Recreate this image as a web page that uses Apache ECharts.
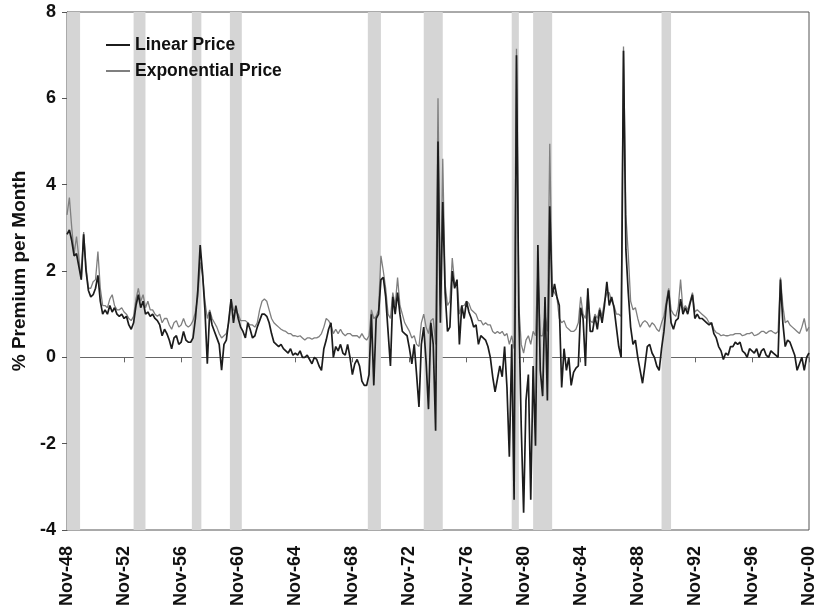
<!DOCTYPE html>
<html><head><meta charset="utf-8">
<script src="https://cdn.jsdelivr.net/npm/echarts@6/dist/echarts.min.js"></script>
<style>html,body{margin:0;padding:0;background:#fff}#c{width:818px;height:613px}</style>
</head><body><div id="c"></div>
<script>
// Observations every 2 months starting Nov-48 (x = months since Nov-48)
const STEP_MONTHS = 2;
const tickLabels = ['Nov-48','Nov-52','Nov-56','Nov-60','Nov-64','Nov-68','Nov-72','Nov-76','Nov-80','Nov-84','Nov-88','Nov-92','Nov-96','Nov-00'];
const recessions = [['Nov-48','Oct-49'],['Jul-53','May-54'],['Aug-57','Apr-58'],['Apr-60','Feb-61'],['Dec-69','Nov-70'],['Nov-73','Mar-75'],['Jan-80','Jul-80'],['Jul-81','Nov-82'],['Jul-90','Mar-91']];
const seriesNames = ['Linear Price','Exponential Price'];

const linearPrice = [
2.85,2.95,2.7,2.35,2.4,2.1,
1.8,2.85,2.0,1.55,1.4,1.45,
1.6,1.9,1.3,1.0,1.1,1.0,
1.2,1.05,1.15,1.0,0.95,1.0,
0.9,0.95,0.75,0.65,0.8,1.2,
1.45,1.15,1.3,1.0,1.05,0.95,
1.0,0.9,0.85,0.75,0.5,0.65,
0.55,0.4,0.2,0.45,0.5,0.3,
0.35,0.6,0.4,0.35,0.35,0.45,
0.9,1.55,2.6,1.95,1.1,-0.15,
1.05,0.75,0.6,0.45,0.3,-0.3,
0.3,0.4,0.85,1.35,0.8,1.2,
0.9,0.7,0.6,0.45,0.8,0.65,
0.45,0.5,0.7,0.85,1.0,1.0,
0.95,0.8,0.55,0.35,0.3,0.25,
0.3,0.2,0.15,0.1,0.2,0.05,
0.1,0.05,0.15,0.0,0.0,0.05,
-0.05,-0.15,0.0,-0.05,-0.2,-0.3,
0.2,0.4,0.65,0.8,0.0,0.25,
0.15,0.3,0.1,0.05,0.3,0.0,
-0.4,-0.15,-0.05,-0.2,-0.55,-0.65,
-0.65,-0.4,1.0,-0.65,0.9,1.0,
1.8,1.85,1.4,0.6,-0.2,1.4,
1.0,1.5,1.0,0.6,0.55,0.5,
0.2,-0.15,0.3,-0.4,-1.15,0.3,
0.7,-0.1,-1.2,0.8,0.3,-1.7,
5.0,0.8,3.6,1.5,0.6,0.7,
2.0,1.6,1.8,0.3,1.2,0.9,
1.3,1.05,0.9,0.7,0.75,0.3,
0.5,0.45,0.4,0.25,0.0,-0.45,
-0.8,-0.5,-0.2,-0.45,0.25,-0.7,
-2.3,0.3,-3.3,7.0,1.0,-1.6,
-3.6,-1.0,-0.4,-3.3,-0.2,-2.05,
2.6,-0.3,-0.9,1.4,-1.0,3.5,
1.4,1.7,1.4,1.2,-0.7,0.2,
-0.3,0.0,-0.65,-0.35,-0.25,-0.2,
1.15,0.9,-0.2,1.6,0.6,0.6,
0.95,0.65,1.1,0.8,1.2,1.75,
1.2,1.4,1.15,0.7,0.25,0.0,
7.1,2.5,1.5,0.7,0.3,0.4,
0.0,-0.3,-0.6,-0.2,0.25,0.3,
0.1,0.0,-0.2,-0.3,0.2,0.6,
1.2,1.55,0.8,0.65,0.85,0.9,
1.35,1.0,1.15,1.0,1.25,1.45,
0.9,1.0,0.9,0.9,0.85,0.8,
0.75,0.8,0.55,0.45,0.25,0.15,
-0.05,0.1,0.05,0.25,0.25,0.35,
0.3,0.35,0.15,0.1,0.0,0.2,
0.15,0.1,0.2,0.0,0.15,0.2,
0.05,0.0,0.15,0.1,0.05,0.0,
1.8,0.8,0.25,0.4,0.35,0.2,
0.05,-0.3,-0.15,0.0,-0.3,0.0,
0.1
];

const exponentialPrice = [
3.3,3.7,3.0,2.4,2.8,2.3,
1.8,2.9,2.1,1.6,1.6,1.75,
1.8,2.45,1.6,1.2,1.2,1.15,
1.35,1.45,1.2,1.1,1.1,1.15,
1.05,1.0,0.9,0.85,0.95,1.35,
1.6,1.3,1.45,1.15,1.3,1.1,
1.1,1.0,0.95,1.0,0.8,0.9,
0.9,0.75,0.65,0.8,0.85,0.7,
0.75,0.9,0.75,0.7,0.75,0.85,
1.05,1.4,2.2,1.9,1.3,0.9,
1.1,0.9,0.8,0.7,0.55,0.45,
0.5,0.55,0.8,1.35,1.1,1.05,
1.0,0.85,0.85,0.85,0.8,0.75,
0.75,0.7,0.8,1.1,1.3,1.35,
1.3,1.1,0.9,0.8,0.75,0.7,
0.65,0.62,0.6,0.55,0.55,0.5,
0.5,0.48,0.5,0.45,0.4,0.45,
0.45,0.42,0.45,0.45,0.48,0.55,
0.7,0.9,0.85,0.75,0.55,0.65,
0.55,0.65,0.55,0.5,0.55,0.55,
0.5,0.5,0.5,0.45,0.55,0.45,
0.4,0.5,1.1,0.9,0.95,1.1,
2.35,2.0,1.6,1.0,0.9,1.5,
1.2,1.85,1.2,1.0,0.8,0.7,
0.6,0.45,0.5,0.3,0.25,0.8,
1.0,0.7,0.55,0.85,0.9,0.3,
6.0,1.2,4.6,1.7,1.2,1.3,
2.3,1.7,1.75,1.0,1.2,1.2,
1.3,1.25,1.1,1.05,1.0,0.85,
0.85,0.75,0.8,0.75,0.75,0.6,
0.55,0.6,0.55,0.6,0.5,0.55,
0.3,0.5,0.2,7.15,1.2,0.3,
0.1,0.4,0.5,0.3,0.6,0.5,
2.0,0.5,0.5,1.0,0.6,4.95,
1.6,1.5,1.4,0.9,0.8,0.85,
0.7,0.65,0.6,0.6,0.65,0.8,
1.4,1.0,0.9,1.5,0.85,0.8,
1.0,0.9,1.15,0.95,1.3,1.5,
1.5,1.3,1.2,1.0,1.0,0.95,
7.2,3.3,2.4,1.3,1.1,1.15,
0.9,0.7,0.8,0.85,0.8,0.7,
0.8,0.75,0.65,0.6,0.8,0.95,
1.3,1.6,1.1,1.0,0.95,1.15,
1.8,1.1,1.2,1.1,1.3,1.5,
1.05,1.1,1.05,1.0,0.95,0.9,
0.8,0.8,0.65,0.57,0.55,0.5,
0.52,0.5,0.5,0.52,0.52,0.55,
0.55,0.55,0.5,0.52,0.55,0.55,
0.58,0.5,0.52,0.55,0.6,0.6,
0.55,0.6,0.62,0.58,0.55,0.6,
1.85,1.2,0.8,0.85,0.75,0.7,
0.65,0.6,0.55,0.7,0.9,0.6,
0.7
];

const MONTHS = ['Jan','Feb','Mar','Apr','May','Jun','Jul','Aug','Sep','Oct','Nov','Dec'];
function monthOffset(label) {
  const parts = label.split('-');
  const yy = parseInt(parts[1], 10);
  const year = yy < 30 ? 2000 + yy : 1900 + yy;
  return (year - 1948) * 12 + MONTHS.indexOf(parts[0]) - 10;
}
const lastMonth = monthOffset(tickLabels[tickLabels.length - 1]);
const tickInterval = monthOffset(tickLabels[1]) - monthOffset(tickLabels[0]);
const toPairs = arr => arr.map((v, i) => [i * STEP_MONTHS, v]);

const FONT = "'Liberation Sans', Arial, sans-serif";
const chart = echarts.init(document.getElementById('c'), null, {renderer: 'canvas'});
chart.setOption({
  animation: false,
  backgroundColor: '#fff',
  grid: {left: 67, right: 7, top: 12, bottom: 83, show: true, borderColor: '#555', borderWidth: 1, backgroundColor: 'transparent'},
  legend: {
    data: seriesNames,
    orient: 'vertical', left: 100, top: 31, itemGap: 8,
    itemWidth: 24, itemHeight: 12, itemStyle: {opacity: 0},
    textStyle: {fontFamily: FONT, fontWeight: 'bold', fontSize: 17.5, color: '#111'}
  },
  xAxis: [
    {type: 'value', min: 0, max: lastMonth, interval: tickInterval,
     axisLine: {show: true, onZero: true, lineStyle: {color: '#666', width: 1}},
     axisTick: {show: true, length: 5, lineStyle: {color: '#666'}},
     axisLabel: {show: false}, splitLine: {show: false}},
    {type: 'value', position: 'bottom', min: 0, max: lastMonth, interval: tickInterval,
     axisLine: {show: false, onZero: false}, axisTick: {show: false}, splitLine: {show: false},
     axisLabel: {show: true, rotate: 90, margin: 16, color: '#111', fontFamily: FONT, fontWeight: 'bold', fontSize: 18,
       formatter: v => tickLabels[Math.round(v / tickInterval)] || ''}}
  ],
  yAxis: {
    type: 'value', min: -4, max: 8, interval: 2,
    name: '% Premium per Month', nameLocation: 'middle', nameRotate: 90, nameGap: 34,
    nameTextStyle: {fontFamily: FONT, fontWeight: 'bold', fontSize: 19, color: '#111'},
    axisLine: {show: true, lineStyle: {color: '#555'}},
    axisTick: {show: true, length: 5, lineStyle: {color: '#555'}},
    axisLabel: {margin: 11, color: '#111', fontFamily: FONT, fontWeight: 'bold', fontSize: 18},
    splitLine: {show: false}
  },
  series: [
    {name: 'bands', type: 'line', data: [], silent: true, z: 1,
     markArea: {silent: true, itemStyle: {color: '#d5d5d5'},
       data: recessions.map(r => [{xAxis: monthOffset(r[0])}, {xAxis: monthOffset(r[1])}])}},
    {name: seriesNames[1], type: 'line', xAxisIndex: 0, data: toPairs(exponentialPrice), symbol: 'none', z: 3,
     lineStyle: {color: '#7f7f7f', width: 1.3}, itemStyle: {color: '#7f7f7f'}},
    {name: seriesNames[0], type: 'line', xAxisIndex: 0, data: toPairs(linearPrice), symbol: 'none', z: 4,
     lineStyle: {color: '#1c1c1c', width: 1.7}, itemStyle: {color: '#1c1c1c'}}
  ]
});
</script></body></html>
